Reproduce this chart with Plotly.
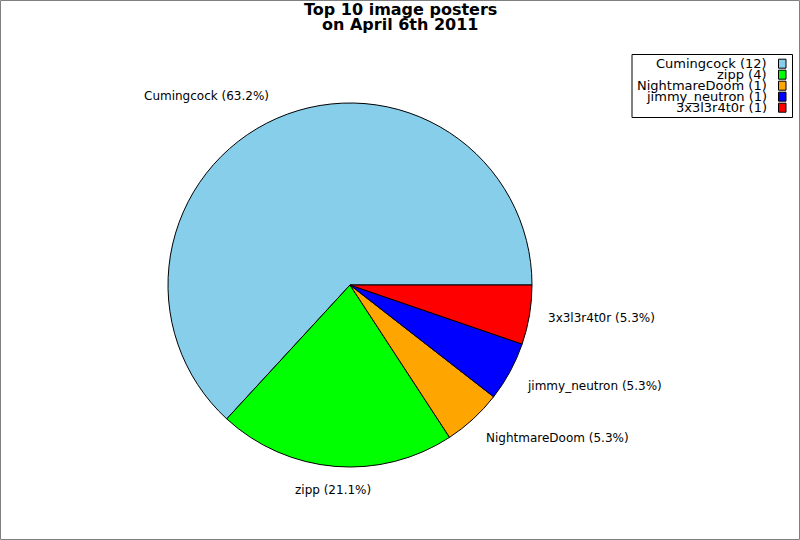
import math
import plotly.graph_objects as go

# ---- data ----
names = ["Cumingcock", "zipp", "NightmareDoom", "jimmy_neutron", "3x3l3r4t0r"]
counts = [12, 4, 1, 1, 1]
colors = ["#87CEEB", "#00FF00", "#FFA500", "#0000FF", "#FF0000"]
title_lines = ["Top 10 image posters", "on April 6th 2011"]

# ---- layout constants (pixels) ----
W, H = 800, 540
CX, CY, R = 350, 285, 182
LABEL_R = 200
FONT = "DejaVu Sans"


def px(x):
    return x / W


def py(y):
    return 1 - y / H


total = sum(counts)
# plotly (counterclockwise) places first slice ending at `rotation`; start sweep at 3 o'clock
rotation = 90 - 360 * counts[0] / total

fig = go.Figure()
fig.add_trace(go.Pie(
    labels=names,
    values=counts,
    marker=dict(colors=colors, line=dict(color="black", width=1)),
    sort=False,
    direction="counterclockwise",
    rotation=rotation,
    textinfo="none",
    hoverinfo="skip",
    showlegend=False,
    domain=dict(x=[px(CX - R), px(CX + R)], y=[py(CY + R), py(CY - R)]),
))

annotations = []
shapes = []

# slice labels
cum = 0
for n, v in zip(names, counts):
    mid = 2 * math.pi * (cum + v / 2) / total
    cum += v
    c, s = math.cos(mid), math.sin(mid)
    x = CX + LABEL_R * c
    y = CY - LABEL_R * s
    xa = "left" if c > 0.3 else ("right" if c < -0.3 else "center")
    ya = "bottom" if s > 0.3 else ("top" if s < -0.3 else "middle")
    ys = {"top": 2.5, "bottom": -2, "middle": 0}[ya]
    annotations.append(dict(
        x=px(x), y=py(y), xref="paper", yref="paper",
        text=f"{n} ({100 * v / total:.1f}%)", showarrow=False,
        xanchor=xa, yanchor=ya, borderpad=0, yshift=ys,
        font=dict(family=FONT, size=12, color="black"),
    ))

# title
for i, t in enumerate(title_lines):
    annotations.append(dict(
        x=0.5, y=py(10 + i * 14.5), xref="paper", yref="paper",
        text=f"<b>{t}</b>", showarrow=False, xanchor="center", yanchor="middle",
        font=dict(family=FONT, size=16, color="black"),
    ))

# legend box
shapes.append(dict(type="rect", xref="paper", yref="paper",
                   x0=px(632), x1=px(792.5), y0=py(54.5), y1=py(117.5),
                   line=dict(color="black", width=1), fillcolor="white"))
for i, (n, v, col) in enumerate(zip(names, counts, colors)):
    yc = 63.7 + i * 11
    annotations.append(dict(
        x=px(769), y=py(yc), xref="paper", yref="paper",
        text=f"{n} ({v})", showarrow=False, xanchor="right", yanchor="middle",
        font=dict(family=FONT, size=13, color="black"),
    ))
    shapes.append(dict(type="rect", xref="paper", yref="paper",
                       x0=px(778.5), x1=px(786), y0=py(yc + 4.5), y1=py(yc - 4.5),
                       line=dict(color="black", width=1), fillcolor=col))

# outer frame
shapes.append(dict(type="rect", xref="paper", yref="paper",
                   x0=px(0.5), x1=px(799.5), y0=py(539.5), y1=py(0.5),
                   line=dict(color="#808080", width=1)))

fig.update_layout(
    width=W, height=H,
    margin=dict(l=0, r=0, t=0, b=0),
    paper_bgcolor="white",
    plot_bgcolor="white",
    annotations=annotations,
    shapes=shapes,
    showlegend=False,
)

fig.write_html(
    "out.html",
    config={"displayModeBar": False},
    post_script="document.body.style.margin='0';document.body.style.overflow='hidden';",
)
